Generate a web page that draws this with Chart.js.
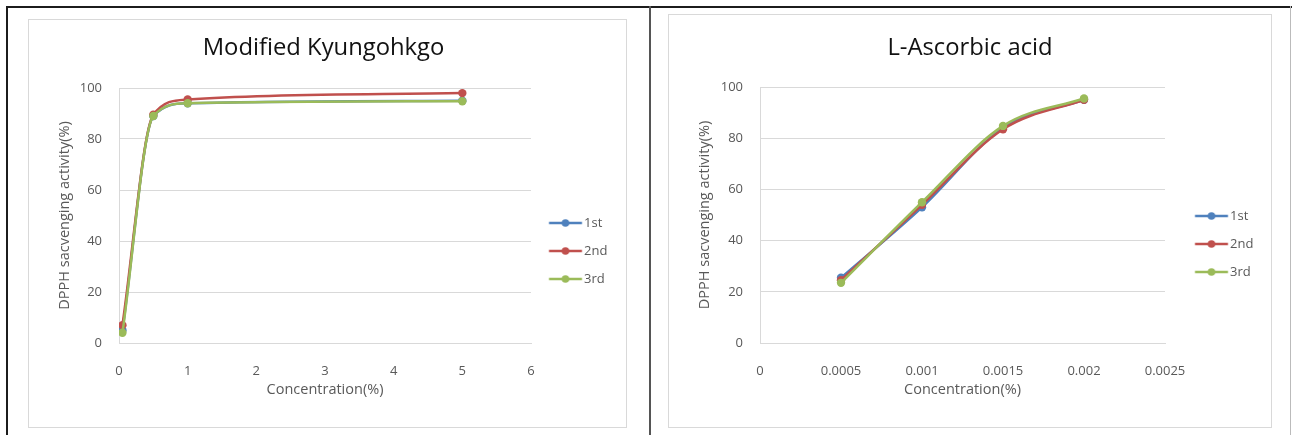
<!DOCTYPE html>
<html>
<head>
<meta charset="utf-8">
<script src="https://cdn.jsdelivr.net/npm/chart.js@4.4.1/dist/chart.umd.min.js"></script>
<style>
  html, body { margin: 0; padding: 0; background: #fff; }
  body { width: 1292px; height: 435px; position: relative; overflow: hidden; }
  .rule { position: absolute; background: #1c1c1c; }
  .box { position: absolute; border: 1px solid #d9d9d9; }
  .box canvas { display: block; }
</style>
</head>
<body>
<div class="rule" style="left:6px; top:6px; width:1286px; height:2px;"></div>
<div class="rule" style="left:6px; top:6px; width:2px; height:429px;"></div>
<div class="rule" style="left:649px; top:6px; width:2px; height:429px; background:#555;"></div>
<div class="rule" style="left:1290px; top:6px; width:1px; height:429px; background:#bbb;"></div>

<div class="box" style="left:28px; top:19px;"><canvas id="kyung" width="597" height="407"></canvas></div>
<div class="box" style="left:668px; top:14px;"><canvas id="ascorbic" width="602" height="412"></canvas></div>

<script>
// series values
const seriesNames = ["1st", "2nd", "3rd"];
const seriesColors = ["#4F81BD", "#C0504D", "#9BBB59"];

const kyungConc = [0.05, 0.5, 1, 5];
const kyung1st = [5, 89, 94, 95];
const kyung2nd = [7, 89.5, 95.5, 98];
const kyung3rd = [4, 89, 94, 94.8];
const kyungXTicks = [0, 1, 2, 3, 4, 5, 6];

const ascConc = [0.0005, 0.001, 0.0015, 0.002];
const asc1st = [25.5, 53, 84, 95];
const asc2nd = [24.5, 54, 83.5, 95];
const asc3rd = [23.5, 55, 84.8, 95.5];
const ascXTicks = [0, 0.0005, 0.001, 0.0015, 0.002, 0.0025];

const yTicks = [0, 20, 40, 60, 80, 100];

const yTitle = "DPPH sacvenging activity(%)";
const xTitle = "Concentration(%)";

Chart.defaults.font.family = "'Open Sans', 'Noto Sans CJK KR', sans-serif";
Chart.defaults.color = "#595959";

const tickFont = { size: 13 };
const axisTitleSize = 14.5;
const titleSize = 23.8;
const legPad = 15;
const padRight = 14;

// little line-with-dot picture for the legend, like the excel one
function legendMark(color, w, x0, x1) {
    const c = document.createElement("canvas");
    c.width = w;
    c.height = 10;
    const g = c.getContext("2d");
    g.strokeStyle = color;
    g.lineWidth = 2.5;
    g.beginPath();
    g.moveTo(x0, 5);
    g.lineTo(x1, 5);
    g.stroke();
    g.fillStyle = color;
    g.beginPath();
    g.arc((x0 + x1) / 2, 5, 3.8, 0, Math.PI * 2);
    g.fill();
    return c;
}

function makeChart(id, title, xs, series, xTicks, lay)
{
    const padLeft = 2 * lay.titleX - lay.w + padRight;
    const titleHalf = titleSize * 1.2 / 2;
    const axisHalf = axisTitleSize * 1.2 / 2;

    // legend box geometry
    const boxX = lay.plotRight + legPad;
    const boxW = lay.legText - 6.5 - boxX;
    const cx = boxX + boxW / 2;
    const half = Math.max(lay.legLine[1] - cx, cx - lay.legLine[0]) + 1;
    const imgW = Math.ceil(half * 2);
    const imgLeft = cx - imgW / 2;
    const marks = seriesColors.map(c => legendMark(c, imgW, lay.legLine[0] - imgLeft, lay.legLine[1] - imgLeft));

    const datasets = series.map((ys, i) => ({
        label: seriesNames[i],
        data: xs.map((x, j) => ({ x: x, y: ys[j] })),
        borderColor: seriesColors[i],
        backgroundColor: seriesColors[i],
        borderWidth: 2.5,
        pointRadius: 4.2,
        pointBorderWidth: 0,
        cubicInterpolationMode: "monotone",
        order: series.length - 1 - i,
    }));

    return new Chart(document.getElementById(id), {
        type: "line",
        data: { datasets: datasets },
        options: {
            responsive: false,
            animation: false,
            layout: { padding: { left: padLeft, right: padRight, top: 0, bottom: 0 } },
            plugins: {
                title: {
                    display: true,
                    text: title,
                    color: "#111",
                    font: { size: titleSize, weight: "normal", lineHeight: 1.2 },
                    padding: { top: lay.titleY - titleHalf, bottom: lay.plotTop - (lay.titleY - titleHalf) - 2 * titleHalf },
                },
                legend: {
                    position: "right",
                    align: "start",
                    maxWidth: lay.w - lay.plotRight - padRight,
                    title: { display: true, text: "", padding: { top: lay.legFirstY - 21.5 - 14.4, bottom: 0 } },
                    labels: {
                        usePointStyle: true,
                        pointStyleWidth: boxW,
                        padding: legPad,
                        color: "#595959",
                        font: { size: 13 },
                        generateLabels: (chart) => {
                            const items = Chart.defaults.plugins.legend.labels.generateLabels(chart);
                            items.forEach(it => { it.pointStyle = marks[it.datasetIndex]; });
                            return items;
                        },
                        sort: (a, b) => a.datasetIndex - b.datasetIndex,
                    },
                },
                tooltip: { enabled: false },
            },
            scales: {
                x: {
                    type: "linear",
                    min: xTicks[0],
                    max: xTicks[xTicks.length - 1],
                    afterFit: (scale) => { scale.height = lay.h - lay.plotBottom; },
                    ticks: {
                        stepSize: xTicks[1] - xTicks[0],
                        padding: 12,
                        font: tickFont,
                        color: "#595959",
                        callback: (v) => String(Number(v.toFixed(6))),
                    },
                    grid: { display: false },
                    border: { display: true, color: "#d9d9d9", width: 1 },
                    title: { display: true, text: xTitle, color: "#595959", font: { size: axisTitleSize }, padding: { top: 0, bottom: lay.h - lay.xTitleY - axisHalf } },
                },
                y: {
                    min: yTicks[0],
                    max: yTicks[yTicks.length - 1],
                    afterFit: (scale) => { scale.width = lay.plotLeft - padLeft; },
                    ticks: { stepSize: yTicks[1] - yTicks[0], padding: 17, font: tickFont, color: "#595959" },
                    grid: { color: "#d9d9d9", drawTicks: false },
                    border: { display: true, color: "#d9d9d9", width: 1 },
                    title: { display: true, text: yTitle, color: "#595959", font: { size: axisTitleSize }, padding: { top: lay.yTitleX - padLeft - axisHalf, bottom: 0 } },
                },
            },
        },
    });
}

makeChart("kyung", "Modified Kyungohkgo", kyungConc, [kyung1st, kyung2nd, kyung3rd], kyungXTicks, {
    w: 597, h: 407, plotLeft: 90, plotRight: 502, plotTop: 68, plotBottom: 323,
    titleX: 294.5, titleY: 28, xTitleY: 370, yTitleX: 36,
    legLine: [520, 553], legText: 555, legFirstY: 203,
});

makeChart("ascorbic", "L-Ascorbic acid", ascConc, [asc1st, asc2nd, asc3rd], ascXTicks, {
    w: 602, h: 412, plotLeft: 91, plotRight: 496, plotTop: 72, plotBottom: 328,
    titleX: 301, titleY: 33, xTitleY: 375, yTitleX: 36,
    legLine: [526, 559], legText: 561, legFirstY: 201,
});
</script>
</body>
</html>
